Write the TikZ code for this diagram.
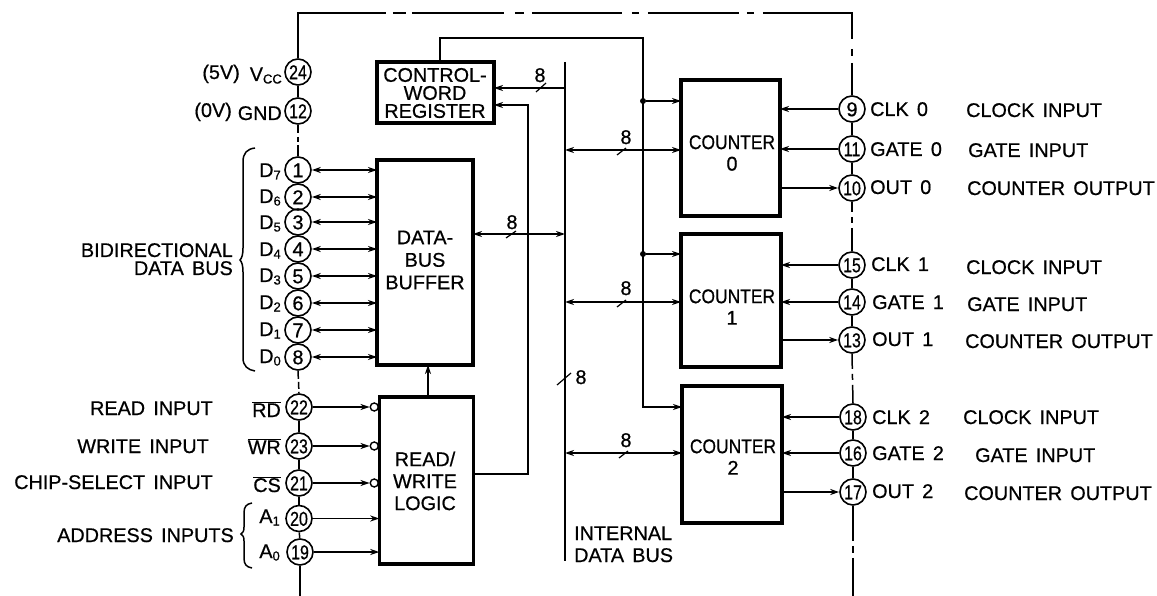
\documentclass[tikz,border=0pt]{standalone}
\usepackage{graphicx}
\usepackage{fontspec}
\setmainfont[WordSpace=1.5,FakeBold=0.6]{Liberation Sans}
\usetikzlibrary{arrows.meta,calc}
\newcommand{\nar}[1]{\scalebox{.8}[1]{#1}}
\newcommand{\cnt}{\scalebox{.88}[1]{COUNTER}}
\newcommand{\subs}[1]{{\fontsize{13}{13}\selectfont\raisebox{-2.5pt}{#1}}}
\newcommand{\barred}[1]{$\overline{\hbox{#1}}$}
\tikzset{
  wire/.style={line width=1.5pt},
  tip/.style={-{Stealth[length=9pt,width=6pt]}},
  both/.style={{Stealth[length=9pt,width=6pt]}-{Stealth[length=9pt,width=6pt]}},
  pin/.style={circle,draw,line width=1.6pt,minimum size=26pt,inner sep=0pt,font=\fontsize{20}{20}\selectfont,text height=14.5pt,text depth=0pt},
  block/.style={draw,line width=3.2pt,inner sep=0pt,outer sep=0pt},
  txt/.style={inner sep=0pt,font=\fontsize{19.8}{20}\selectfont,text height=14pt,text depth=0pt},
  btxt/.style={inner sep=0pt,align=center},
  tick/.style={line width=1.2pt},
  bubble/.style={circle,draw,line width=1.4pt,minimum size=8pt,inner sep=0pt},
  jdot/.style={circle,fill,minimum size=6pt,inner sep=0pt},
}
\begin{document}
\begin{tikzpicture}[x=1pt,y=-1pt]
\useasboundingbox (0,0) rectangle (1157,596);
\fill[white] (0,0) rectangle (1157,596);

% blocks
\node[block,minimum width=117pt,minimum height=61pt] (cwr) at (435.5,92.5) {};
\node[block,minimum width=96pt,minimum height=205pt] (buf) at (425,262.5) {};
\node[block,minimum width=94.5pt,minimum height=167pt] (rw) at (426.5,480.5) {};
\node[block,minimum width=99pt,minimum height=136pt] (c0) at (730.5,148) {};
\node[block,minimum width=100pt,minimum height=133pt] (c1) at (731,300.5) {};
\node[block,minimum width=100pt,minimum height=137pt] (c2) at (732,454.5) {};

% block texts
\node[btxt,font=\fontsize{19.8}{18}\selectfont] (tcwr) at (435,93) {CONTROL-\\WORD\\REGISTER};
\node[btxt,font=\fontsize{19.8}{22.5}\selectfont] (tbuf) at (425,260) {DATA-\\BUS\\BUFFER};
\node[btxt,font=\fontsize{19.8}{22}\selectfont] (trw) at (425,481) {READ/\\WRITE\\LOGIC};
\node[btxt,font=\fontsize{19.8}{21.5}\selectfont] (tc0) at (732,153) {\cnt\\0};
\node[btxt,font=\fontsize{19.8}{21.5}\selectfont] (tc1) at (732,307) {\cnt\\1};
\node[btxt,font=\fontsize{19.8}{21.5}\selectfont] (tc2) at (733,457) {\cnt\\2};

% left pins
\node[pin] (p24) at (298,72) {\nar{24}};
\node[pin] (p12) at (298,111) {\nar{12}};
\node[pin] (p1) at (298,170) {1};
\node[pin] (p2) at (298,197) {2};
\node[pin] (p3) at (298,222) {3};
\node[pin] (p4) at (298,249) {4};
\node[pin] (p5) at (298,276) {5};
\node[pin] (p6) at (298,303) {6};
\node[pin] (p7) at (298,330) {7};
\node[pin] (p8) at (298,357) {8};
\node[pin] (p22) at (299,407) {\nar{22}};
\node[pin] (p23) at (299,446) {\nar{23}};
\node[pin] (p21) at (299,483) {\nar{21}};
\node[pin] (p20) at (299,518.5) {\nar{20}};
\node[pin] (p19) at (300,552) {\nar{19}};

% right pins
\node[pin] (p9) at (852,109) {9};
\node[pin] (p11) at (852,149) {\nar{11}};
\node[pin] (p10) at (852,188) {\nar{10}};
\node[pin] (p15) at (852,265) {\nar{15}};
\node[pin] (p14) at (852,302) {\nar{14}};
\node[pin] (p13) at (852,340) {\nar{13}};
\node[pin] (p18) at (853,417) {\nar{18}};
\node[pin] (p16) at (853,453) {\nar{16}};
\node[pin] (p17) at (853,492) {\nar{17}};

% frame and power trunk
\coordinate (tl) at (298,13);
\coordinate (tr) at (852,13);
\coordinate (bl) at (300,596);
\coordinate (br) at (853,596);
\draw[wire,dash pattern=on 133pt off 7pt on 13pt off 6pt on 92pt off 11pt on 9pt off 8pt on 90pt off 10pt on 7pt off 9pt on 91pt off 8pt on 7pt off 9pt on 115pt off 10pt on 7pt off 7pt on 100pt]
  (p24.north) -- (tl) -- (tr) -- (p9.north);
\draw[wire] (p24) -- (p12);
\draw[wire,dash pattern=on 8pt off 4pt on 5pt off 3pt on 30pt] (p12.south) -- (p1.north);
\draw[wire,dash pattern=on 8pt off 3pt on 7pt off 3pt on 30pt] (p8.south) -- (p22.north);
\draw[wire] (p22) -- (p23); \draw[wire] (p23) -- (p21); \draw[wire] (p21) -- (p20); \draw[wire] (p20) -- (p19);
\draw[wire] (p19.south) -- (bl);
\draw[wire] (p9) -- (p11); \draw[wire] (p11) -- (p10); \draw[wire] (p15) -- (p14); \draw[wire] (p14) -- (p13);
\draw[wire] (p18) -- (p16); \draw[wire] (p16) -- (p17);
\draw[wire,dash pattern=on 10pt off 5pt on 6pt off 5pt on 40pt] (p10.south) -- (p15.north);
\draw[wire,dash pattern=on 15pt off 5pt on 6pt off 5pt on 40pt] (p13.south) -- (p18.north);
\draw[wire,dash pattern=on 35pt off 5pt on 7pt off 5pt on 60pt] (p17.south) -- (br);

% data bus wires
\foreach \n in {1,...,8}{\draw[wire,both] (p\n.east) -- (p\n.east -| buf.west);}
% read/write inputs
\foreach \n in {22,23,21}{
  \node[bubble] (b\n) at ($(p\n.east -| rw.west)+(-5,0)$) {};
  \draw[wire,tip] (p\n.east) -- (b\n.west);
}
\foreach \n in {20,19}{\draw[wire,tip] (p\n.east) -- (p\n.east -| rw.west);}
% buffer - r/w
\coordinate (rwup) at (428,397);
\draw[line width=1.8pt,tip] (rwup) -- (rwup |- buf.south);

% internal bus
\coordinate (bust) at (565,62);
\coordinate (busb) at (565,561);
\draw[wire] (bust) -- (busb);
\coordinate (cwa) at (565,88);
\draw[wire,tip] (cwa) -- (cwa -| cwr.east);
\coordinate (bufbus) at (565,234);
\draw[wire,both] (bufbus -| buf.east) -- (bufbus);
\coordinate (b0) at (565,150);
\coordinate (bc1) at (565,302);
\coordinate (bc2) at (565,453);
\draw[wire,both] (b0) -- (b0 -| c0.west);
\draw[wire,both] (bc1) -- (bc1 -| c1.west);
\draw[wire,both] (bc2) -- (bc2 -| c2.west);

% r/w to control word
\coordinate (rwo) at (528,474);
\coordinate (cwb) at (528,105);
\draw[wire,tip] (rwo -| rw.east) -- (rwo) -- (cwb) -- (cwb -| cwr.east);

% control-word to counters
\coordinate (cwtop) at (440,38);
\coordinate (cl) at (643,38);
\coordinate (cl2) at (643,407);
\coordinate (j0) at (643,101);
\coordinate (j1) at (643,254);
\draw[wire,tip] (cwtop |- cwr.north) -- (cwtop) -- (cl) -- (cl2) -- (cl2 -| c2.west);
\node[jdot] (d0) at (j0) {};
\node[jdot] (d1) at (j1) {};
\draw[wire,tip] (d0) -- (d0 -| c0.west);
\draw[wire,tip] (d1) -- (d1 -| c1.west);

% counter pins
\draw[wire,tip] (p9.west) -- (p9.west -| c0.east);
\draw[wire,tip] (p11.west) -- (p11.west -| c0.east);
\draw[wire,tip] (p10.west -| c0.east) -- (p10.west);
\draw[wire,tip] (p15.west) -- (p15.west -| c1.east);
\draw[wire,tip] (p14.west) -- (p14.west -| c1.east);
\draw[wire,tip] (p13.west -| c1.east) -- (p13.west);
\draw[wire,tip] (p18.west) -- (p18.west -| c2.east);
\draw[wire,tip] (p16.west) -- (p16.west -| c2.east);
\draw[wire,tip] (p17.west -| c2.east) -- (p17.west);

% bus width ticks and labels
\draw[tick] (536,92) -- (546,83);
\draw[tick] (506,238) -- (516,231);
\draw[tick] (617,155) -- (626,148);
\draw[tick] (617,307) -- (626,300);
\draw[tick] (619,458) -- (628,451);
\draw[tick] (557,385) -- (571,373);
\node[txt] (n1) at (540,75) {8};
\node[txt] (n2) at (512,222) {8};
\node[txt] (n3) at (626,137) {8};
\node[txt] (n4) at (626,288) {8};
\node[txt] (n5) at (626,440) {8};
\node[txt] (n6) at (581,377) {8};

% braces
\draw[wire] (255,148) .. controls (247,149) and (243,153) .. (243,162) -- (243,248) .. controls (243,254) and (242,258) .. (240,260) .. controls (242,262) and (243,266) .. (243,272) -- (243,358) .. controls (243,366) and (248,370) .. (255,371);
\draw[wire] (252,503) .. controls (246,504) and (244,507) .. (244,513) -- (244,527) .. controls (244,531) and (243,533) .. (241,534) .. controls (243,535) and (244,537) .. (244,541) -- (244,558) .. controls (244,564) and (246,567) .. (252,568);

% left labels
\node[txt,anchor=east] (l5v) at (240,72) {(5V)};
\node[txt,anchor=east] (lvcc) at (282,74) {V\subs{CC}};
\node[txt,anchor=east] (l0v) at (232,110) {(0V)};
\node[txt,anchor=east] (lgnd) at (282,113) {GND};
\node[txt,anchor=east] (ld7) at (281,170) {D\subs{7}};
\node[txt,anchor=east] (ld6) at (281,196) {D\subs{6}};
\node[txt,anchor=east] (ld5) at (281,222) {D\subs{5}};
\node[txt,anchor=east] (ld4) at (281,249) {D\subs{4}};
\node[txt,anchor=east] (ld3) at (281,275) {D\subs{3}};
\node[txt,anchor=east] (ld2) at (281,302) {D\subs{2}};
\node[txt,anchor=east] (ld1) at (281,329) {D\subs{1}};
\node[txt,anchor=east] (ld0) at (281,356) {D\subs{0}};
\node[txt,anchor=east] (lrd) at (281,410) {\barred{RD}};
\node[txt,anchor=east] (lwr) at (281,447) {\barred{WR}};
\node[txt,anchor=east] (lcs) at (281,485) {\barred{CS}};
\node[txt,anchor=east] (la1) at (280,516) {A\subs{1}};
\node[txt,anchor=east] (la0) at (280,551) {A\subs{0}};
\node[txt,anchor=east] (lread) at (213,408) {READ INPUT};
\node[txt,anchor=east] (lwrite) at (209,446) {WRITE INPUT};
\node[txt,anchor=east] (lchip) at (213,482) {CHIP-SELECT INPUT};
\node[txt,anchor=east] (laddr) at (234,535) {ADDRESS INPUTS};
\node[txt,anchor=east] (lbi) at (233,250) {BIDIRECTIONAL};
\node[txt,anchor=east] (ldb) at (233,268) {DATA BUS};

% internal data bus label
\node[txt,anchor=west] (lint) at (574,533) {INTERNAL};
\node[txt,anchor=west] (ldata) at (574,555) {DATA BUS};

% right labels
\node[txt,anchor=west] (rc0) at (870,109) {CLK 0};
\node[txt,anchor=west] (rg0) at (870,149) {GATE 0};
\node[txt,anchor=west] (ro0) at (870,187) {OUT 0};
\node[txt,anchor=west] (rc1) at (871,264) {CLK 1};
\node[txt,anchor=west] (rg1) at (872,302) {GATE 1};
\node[txt,anchor=west] (ro1) at (872,339) {OUT 1};
\node[txt,anchor=west] (rc2) at (872,417) {CLK 2};
\node[txt,anchor=west] (rg2) at (872,453) {GATE 2};
\node[txt,anchor=west] (ro2) at (872,491) {OUT 2};
\node[txt,anchor=west] (d1a) at (966,110) {CLOCK INPUT};
\node[txt,anchor=west] (d2a) at (968,150) {GATE INPUT};
\node[txt,anchor=west] (d3a) at (967,188) {COUNTER OUTPUT};
\node[txt,anchor=west] (d1b) at (966,267) {CLOCK INPUT};
\node[txt,anchor=west] (d2b) at (967,304) {GATE INPUT};
\node[txt,anchor=west] (d3b) at (965,341) {COUNTER OUTPUT};
\node[txt,anchor=west] (d1c) at (963,417) {CLOCK INPUT};
\node[txt,anchor=west] (d2c) at (975,455) {GATE INPUT};
\node[txt,anchor=west] (d3c) at (964,493) {COUNTER OUTPUT};
\end{tikzpicture}
\end{document}
